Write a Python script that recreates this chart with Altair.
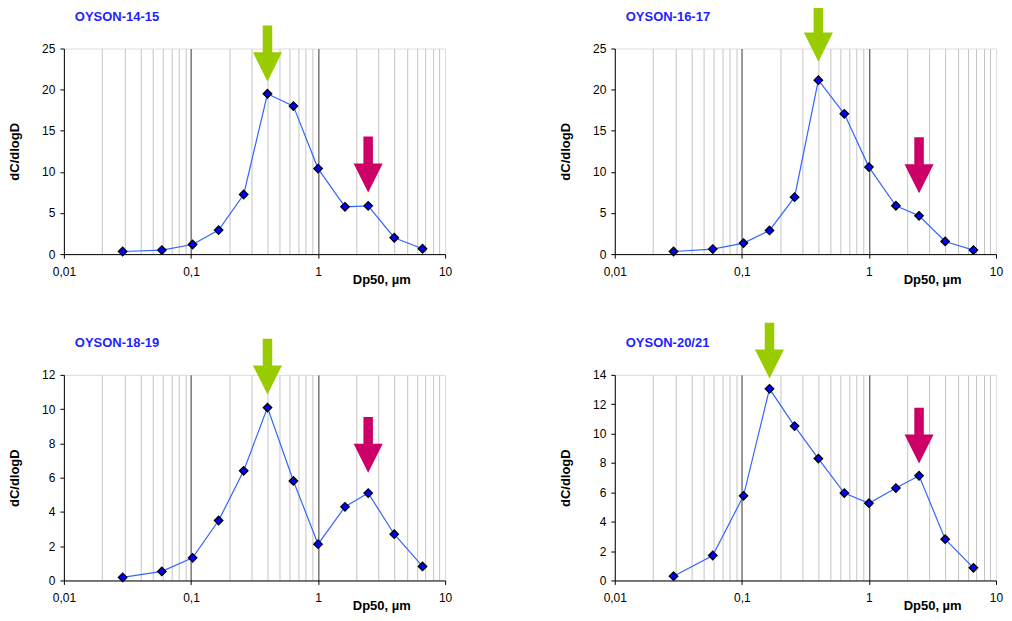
import altair as alt
import pandas as pd

# ---- data ----
dp50 = [0.029, 0.059, 0.103, 0.165, 0.26, 0.40, 0.64, 1.0, 1.63, 2.48, 3.98, 6.64]

panel_names = ["OYSON-14-15", "OYSON-16-17", "OYSON-18-19", "OYSON-20/21"]
vals_14_15 = [0.32, 0.49, 1.17, 2.92, 7.25, 19.5, 18.0, 10.4, 5.75, 5.87, 1.99, 0.65]
vals_16_17 = [0.32, 0.61, 1.34, 2.88, 6.93, 21.15, 17.06, 10.58, 5.88, 4.66, 1.54, 0.49]
vals_18_19 = [0.18, 0.53, 1.32, 3.50, 6.40, 10.09, 5.81, 2.12, 4.30, 5.10, 2.70, 0.82]
vals_20_21 = [0.29, 1.70, 5.76, 13.05, 10.51, 8.30, 5.95, 5.26, 6.29, 7.13, 2.81, 0.86]
series = [vals_14_15, vals_16_17, vals_18_19, vals_20_21]

y_max = [25, 25, 12, 14]
y_step = [5, 5, 2, 2]

# arrows: index of the marked peak and the value at the arrow tip
green_idx = [5, 5, 5, 3]
pink_idx = [9, 9, 9, 9]
green_tip = [21.0, 23.4, 10.85, 13.75]
pink_tip = [7.5, 7.4, 6.28, 7.96]

x_ticks = [0.01, 0.02, 0.03, 0.04, 0.05, 0.06, 0.07, 0.08, 0.09,
           0.1, 0.2, 0.3, 0.4, 0.5, 0.6, 0.7, 0.8, 0.9,
           1, 2, 3, 4, 5, 6, 7, 8, 9, 10]

FONT = "Liberation Sans"
W, H = 382, 206
ARROW = "M-0.17,-1L0.17,-1L0.17,-0.04L0.52,-0.04L0,1L-0.52,-0.04L-0.17,-0.04Z"


def panel(name, vals, ymax, ystep, gi, pi, gt, pt):
    df = pd.DataFrame({"x": dp50, "y": vals})
    xs = alt.Scale(type="log", domain=[0.01, 10], nice=False)
    ys = alt.Scale(domain=[0, ymax], nice=False, zero=True)
    xaxis = alt.Axis(
        values=x_ticks, tickCount=100,
        title="Dp50, µm",
        titleFont=FONT, titleFontSize=13, titleFontWeight="bold", titleColor="black",
        titleX=318, titleY=19, titleAlign="center", titleBaseline="top",
        labelExpr="indexof([0.01, 0.1, 1, 10], datum.value) >= 0 ? replace(format(datum.value, '~g'), '.', ',') : ''",
        labelFont=FONT, labelFontSize=12, labelColor="black", labelPadding=8,
        labelFlush=False, labelOverlap=False,
        grid=True,
        gridColor={"condition": {"test": "datum.value == 0.1 || datum.value == 1", "value": "#333333"},
                   "value": "#C4C4C4"},
        gridOpacity={"condition": {"test": "datum.value == 0.01 || datum.value == 10", "value": 0},
                     "value": 1},
        gridWidth=1,
        tickSize=4, tickColor="black",
        tickOpacity={"condition": {"test": "indexof([0.01, 0.1, 1, 10], datum.value) >= 0", "value": 1},
                     "value": 0},
        domainColor="black", domainWidth=1,
    )
    yaxis = alt.Axis(
        values=list(range(0, ymax + 1, ystep)), tickCount=100, format="d",
        title="dC/dlogD",
        titleFont=FONT, titleFontSize=13, titleFontWeight="bold", titleColor="black",
        titleX=-42, titleY=H / 2, titleAlign="center",
        labelFont=FONT, labelFontSize=12, labelColor="black", labelPadding=5,
        labelOverlap=False, labelFlush=False,
        grid=False, tickSize=4, tickColor="black",
        domainColor="black", domainWidth=1,
    )
    x_enc = alt.X("x:Q", scale=xs, axis=xaxis)
    y_enc = alt.Y("y:Q", scale=ys, axis=yaxis)

    base = alt.Chart(df)
    line = base.mark_line(color="#3366FF", strokeWidth=1.2).encode(x=x_enc, y=y_enc)
    pts = base.mark_point(shape="diamond", filled=True, fill="#0000FF", stroke="black",
                          strokeWidth=1.3, size=72, opacity=1).encode(x="x:Q", y="y:Q")

    green = pd.DataFrame({"x": [dp50[gi]], "y": [gt]})
    pink = pd.DataFrame({"x": [dp50[pi]], "y": [pt]})
    g_arrow = alt.Chart(green).mark_point(shape=ARROW, filled=True, color="#99CC00", opacity=1,
                                          size=3136, yOffset=-28, strokeWidth=0).encode(x="x:Q", y="y:Q")
    p_arrow = alt.Chart(pink).mark_point(shape=ARROW, filled=True, color="#CC0066", opacity=1,
                                         size=3136, yOffset=-28, strokeWidth=0).encode(x="x:Q", y="y:Q")

    title = alt.Chart(pd.DataFrame({"t": [name]})).mark_text(
        align="left", baseline="alphabetic", font=FONT, fontSize=13, fontWeight="bold",
        color="#1F1FFF").encode(text="t:N", x=alt.value(11), y=alt.value(-28))

    return alt.layer(line, pts, g_arrow, p_arrow, title).properties(width=W, height=H)


panels = [panel(panel_names[i], series[i], y_max[i], y_step[i], green_idx[i], pink_idx[i],
                green_tip[i], pink_tip[i]) for i in range(4)]

chart = alt.concat(*panels, columns=2, spacing={"row": 121, "column": 170}, bounds="flush").properties(
    padding={"left": 0, "top": -4, "right": 0, "bottom": 0}
).configure_view(stroke="#888888", strokeWidth=1).configure(background="white")

chart.save("out.html", embed_options={"renderer": "svg", "actions": False})
